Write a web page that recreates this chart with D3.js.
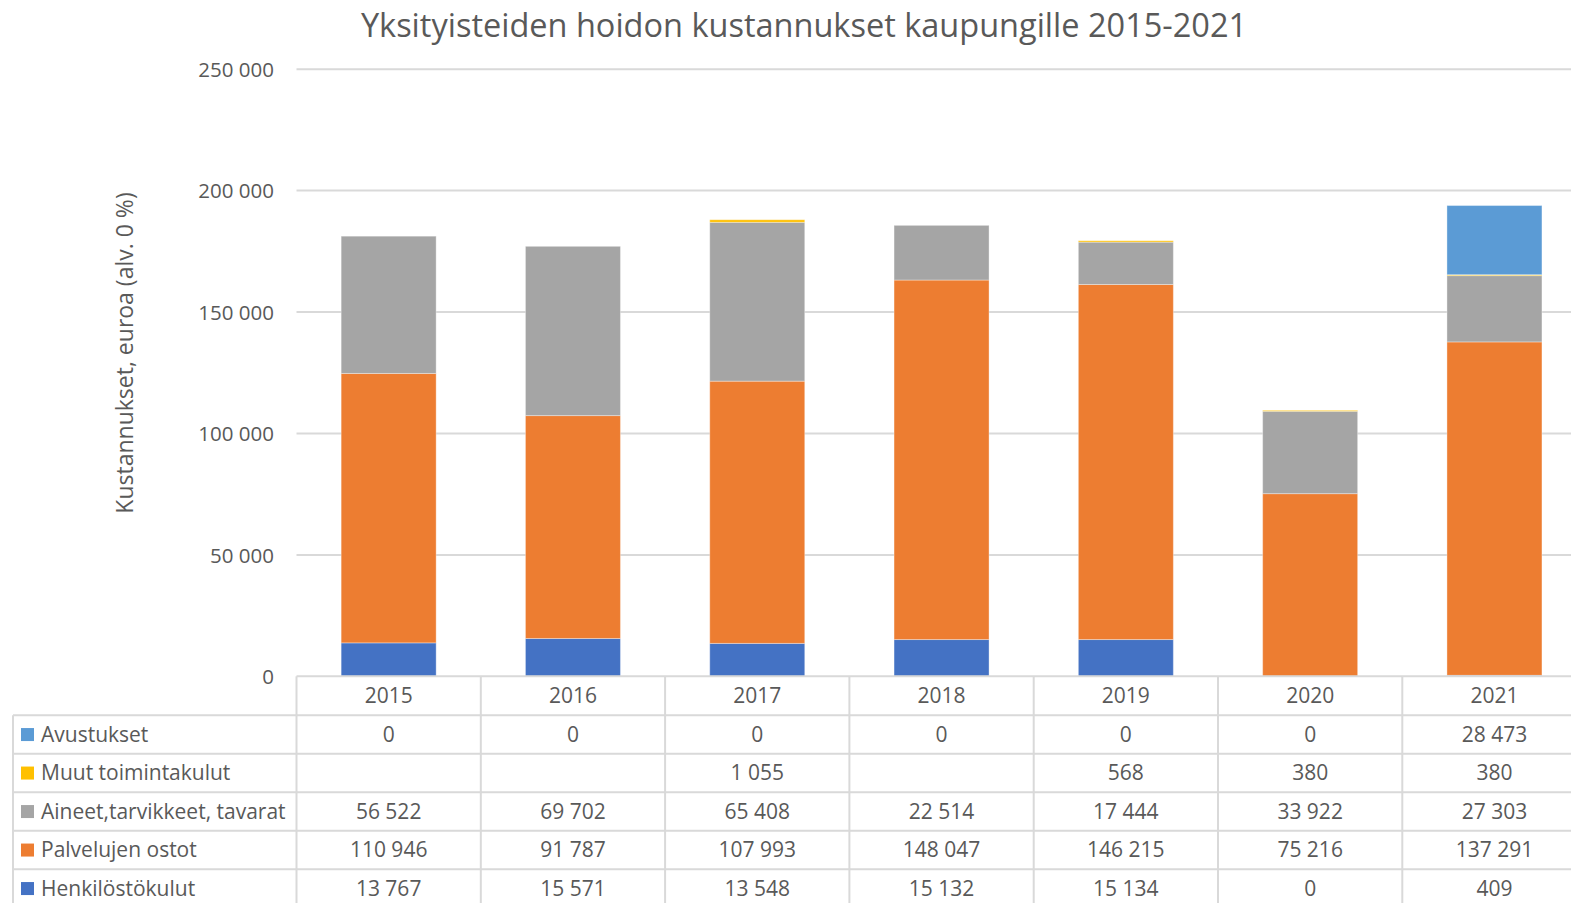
<!DOCTYPE html>
<html><head><meta charset="utf-8">
<script src="https://cdn.jsdelivr.net/npm/d3@7"></script>
<style>
html,body{margin:0;padding:0;background:#fff;overflow:hidden}
text{font-family:"Open Sans",Lato,sans-serif;fill:#595959}
</style></head>
<body>
<svg id="c" width="1571" height="903"></svg>
<script>
const years = ["2015","2016","2017","2018","2019","2020","2021"];
const seriesNames = ["Avustukset","Muut toimintakulut","Aineet,tarvikkeet, tavarat","Palvelujen ostot","Henkilöstökulut"];
const seriesColors = ["#5B9BD5","#FFC000","#A5A5A5","#ED7D31","#4472C4"];
const avustukset = [0,0,0,0,0,0,28473];
const muut = [null,null,1055,null,568,380,380];
const aineet = [56522,69702,65408,22514,17444,33922,27303];
const palvelut = [110946,91787,107993,148047,146215,75216,137291];
const henkilosto = [13767,15571,13548,15132,15134,0,409];
const yTicks = [0,50000,100000,150000,200000,250000];
const titleText = "Yksityisteiden hoidon kustannukset kaupungille 2015-2021";
const yLabel = "Kustannukset, euroa (alv. 0 %)";

const seriesValues = [avustukset,muut,aineet,palvelut,henkilosto];
const stackOrder = [4,3,2,1,0]; // bottom to top

const svg = d3.select("#c");
const plotLeft = 296.5, colW = 184.3, plotTop = 69.2, plotBottom = 676.3;
const x = d3.scaleBand().domain(years).range([plotLeft, plotLeft + colW*years.length]).paddingInner(0).paddingOuter(0);
const y = d3.scaleLinear().domain([0,250000]).range([plotBottom, plotTop]);
const fmt = v => v==null ? "" : d3.format(",")(v).replace(/,/g," ");

// title
svg.append("text").attr("x",804).attr("y",37).attr("text-anchor","middle")
  .style("font-size","32.5px").text(titleText);

// gridlines
svg.append("g").selectAll("line").data(yTicks.slice(1)).join("line")
  .attr("x1",plotLeft).attr("x2",1571).attr("y1",d=>y(d)).attr("y2",d=>y(d))
  .attr("stroke","#D9D9D9").attr("stroke-width",2);

// y axis labels
const yAxis = d3.axisLeft(y).tickValues(yTicks).tickSize(0).tickPadding(0).tickFormat(fmt);
const ga = svg.append("g").attr("transform",`translate(${274},0)`).call(yAxis);
ga.select(".domain").remove();
ga.selectAll("text").style("font-size","20.5px").attr("font-family",null).attr("fill","#595959").attr("dy","0.35em");

// y label
svg.append("text").attr("transform",`translate(133,${353}) rotate(-90)`).attr("text-anchor","middle")
  .style("font-size","23px").text(yLabel);

// stacked bars
const rows = years.map((yr,i)=>{const o={year:yr}; seriesNames.forEach((s,j)=>o[s]=seriesValues[j][i]||0); return o;});
const stack = d3.stack().keys(stackOrder.map(i=>seriesNames[i]));
const stacked = stack(rows);
const barW = 95;
svg.append("g").selectAll("g").data(stacked).join("g")
  .attr("fill",d=>seriesColors[seriesNames.indexOf(d.key)])
  .selectAll("rect").data(d=>d).join("rect")
  .attr("x",d=>x(d.data.year)+(colW-barW)/2)
  .attr("width",barW)
  .attr("y",d=>y(d[1]))
  .attr("height",d=>Math.max(0,y(d[0])-y(d[1])))
  .attr("stroke","#fff").attr("stroke-opacity",0.35).attr("stroke-width",1);

// data table
const rowH = 38.5, hdrH = 39, tblLeft = 13;
const g = svg.append("g");
const lineC = "#D9D9D9";
const fs = "21px";
const plotRight = plotLeft + colW*years.length;
g.append("line").attr("x1",plotLeft).attr("x2",plotRight).attr("y1",plotBottom).attr("y2",plotBottom).attr("stroke",lineC).attr("stroke-width",2);
years.forEach((yr,i)=>{
  g.append("text").attr("x",x(yr)+colW/2).attr("y",plotBottom+hdrH/2).attr("dy","0.35em").attr("text-anchor","middle").style("font-size",fs).text(yr);
});
for(let r=0;r<5;r++){
  const yy = plotBottom+hdrH+rowH*r;
  g.append("line").attr("x1",tblLeft).attr("x2",plotRight).attr("y1",yy).attr("y2",yy).attr("stroke",lineC).attr("stroke-width",2);
}
years.forEach((yr,i)=>{
  g.append("line").attr("x1",x(yr)).attr("x2",x(yr)).attr("y1",plotBottom).attr("y2",903).attr("stroke",lineC).attr("stroke-width",2);
});
g.append("line").attr("x1",plotRight).attr("x2",plotRight).attr("y1",plotBottom).attr("y2",903).attr("stroke",lineC).attr("stroke-width",2);
g.append("line").attr("x1",tblLeft).attr("x2",tblLeft).attr("y1",plotBottom+hdrH).attr("y2",903).attr("stroke",lineC).attr("stroke-width",2);
seriesNames.forEach((s,j)=>{
  const cy = plotBottom + hdrH + rowH*j + rowH/2;
  g.append("rect").attr("x",21).attr("y",cy-6.5).attr("width",13).attr("height",13).attr("fill",seriesColors[j]);
  g.append("text").attr("x",41).attr("y",cy).attr("dy","0.35em").style("font-size",fs).text(s);
  years.forEach((yr,i)=>{
    g.append("text").attr("x",x(yr)+colW/2).attr("y",cy).attr("dy","0.35em").attr("text-anchor","middle").style("font-size",fs).text(fmt(seriesValues[j][i]));
  });
});
</script>
</body></html>
